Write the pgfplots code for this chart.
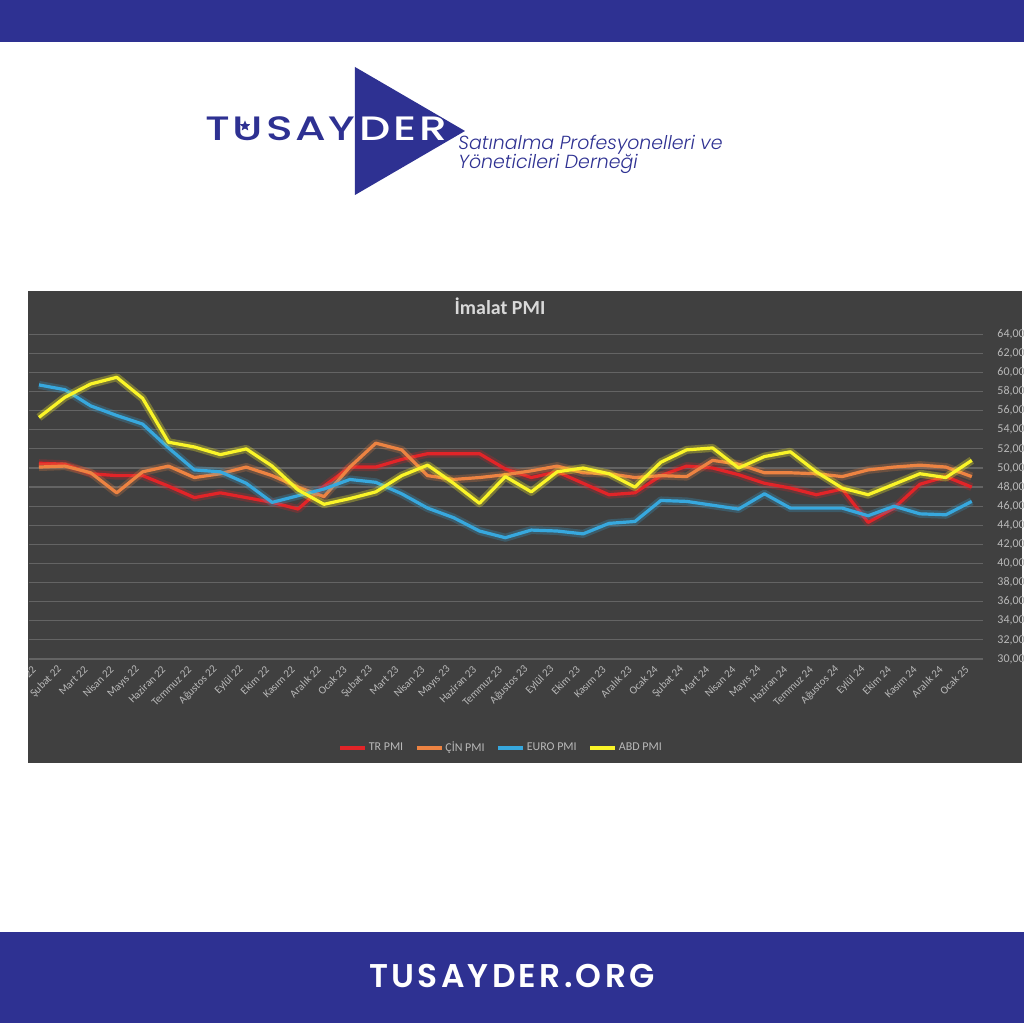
\documentclass[border=0pt]{standalone}
\usepackage{fontspec}
\usepackage{pgfplots}
\usepackage{pgfplotstable}
\pgfplotsset{compat=1.18}
\usetikzlibrary{shapes.geometric}
\setmainfont{Carlito}
\newfontfamily\logofont{Poppins Medium}[LetterSpace=6]
\newfontfamily\subfont{Poppins Light Italic}
\newfontfamily\footfont{Poppins SemiBold}[LetterSpace=10]
\definecolor{navy}{RGB}{46,49,146}
\definecolor{chartbg}{RGB}{64,64,64}
\definecolor{gridc}{RGB}{100,100,100}
\definecolor{labc}{RGB}{185,185,185}
\definecolor{titc}{RGB}{217,217,217}
\definecolor{trc}{RGB}{226,36,40}
\definecolor{cnc}{RGB}{237,131,66}
\definecolor{euc}{RGB}{55,168,222}
\definecolor{usc}{RGB}{250,245,40}
\pgfplotstableread{
i tr cn eu us
0 50.5 50.1 58.7 55.3
1 50.4 50.2 58.2 57.4
2 49.4 49.5 56.5 58.8
3 49.2 47.4 55.5 59.5
4 49.2 49.6 54.6 57.3
5 48.1 50.2 52.1 52.7
6 46.9 49.0 49.8 52.2
7 47.4 49.4 49.6 51.4
8 46.9 50.1 48.4 52.0
9 46.4 49.2 46.4 50.2
10 45.7 48.0 47.1 47.7
11 48.1 47.0 47.8 46.2
12 50.1 50.1 48.8 46.8
13 50.1 52.6 48.5 47.5
14 50.9 51.9 47.3 49.2
15 51.5 49.2 45.8 50.3
16 51.5 48.8 44.8 48.4
17 51.5 49.0 43.4 46.3
18 49.9 49.3 42.7 49.1
19 49.0 49.7 43.5 47.5
20 49.6 50.2 43.4 49.6
21 48.4 49.5 43.1 50.0
22 47.2 49.4 44.2 49.4
23 47.4 49.0 44.4 48.0
24 49.2 49.2 46.6 50.6
25 50.2 49.1 46.5 51.9
26 50.0 50.8 46.1 52.1
27 49.3 50.4 45.7 50.0
28 48.4 49.5 47.3 51.2
29 47.9 49.5 45.8 51.7
30 47.2 49.4 45.8 49.6
31 47.8 49.1 45.8 47.9
32 44.3 49.8 45.0 47.2
33 45.8 50.1 46.0 48.3
34 48.3 50.3 45.2 49.4
35 49.1 50.1 45.1 49.0
36 48.0 49.1 46.5 50.8
}\pmidata
\begin{document}
\begin{tikzpicture}
\useasboundingbox (0bp,0bp) rectangle (512bp,512bp);
\fill[white] (0bp,0bp) rectangle (512bp,512bp);
\begin{scope}[x=0.5bp,y=-0.5bp,shift={(0bp,512bp)}]
  % bands
  \fill[navy] (0,0) rectangle (1024,42);
  \fill[navy] (0,932) rectangle (1024,1023);
  \node[text=white, font=\footfont\fontsize{16.5}{18}\selectfont, anchor=base] at (512,988) {TUSAYDER.ORG};
  % logo
  \node[text=navy, font=\logofont\fontsize{17}{19}\selectfont, anchor=base west, inner sep=0pt, xscale=1.3, transform shape] at (205,141) {TUSAY};
  \fill[navy] (355,67) -- (355,195) -- (465,131) -- cycle;
  \node[text=white, font=\logofont\fontsize{17}{19}\selectfont, anchor=base west, inner sep=0pt, xscale=1.3, transform shape] at (359,141) {DER};
  \node[star, star points=5, star point ratio=2.2, fill=navy, minimum size=5.5bp, inner sep=0pt] at (245,126) {};
  \node[text=navy, font=\subfont\fontsize{9.5}{11}\selectfont, anchor=base west, inner sep=0pt] at (458,150) {Satınalma Profesyonelleri ve};
  \node[text=navy, font=\subfont\fontsize{9.5}{11}\selectfont, anchor=base west, inner sep=0pt] at (458,169) {Yöneticileri Derneği};
  % chart background
  \fill[chartbg] (28,291) rectangle (1022,763);
  \node[text=titc, font=\bfseries\fontsize{10}{11}\selectfont] at (500,306) {İmalat PMI};
\end{scope}
\begin{axis}[
  at={(14.3bp,182.5bp)}, anchor=south west,
  scale only axis, width=477.4bp, height=162.35bp,
  xmin=-0.4, xmax=36.45, ymin=30, ymax=64,
  xtick={0,...,36},
  xticklabels={Ocak 22,Şubat 22,Mart 22,Nisan 22,Mayıs 22,Haziran 22,Temmuz 22,Ağustos 22,Eylül 22,Ekim 22,Kasım 22,Aralık 22,Ocak 23,Şubat 23,Mart 23,Nisan 23,Mayıs 23,Haziran 23,Temmuz 23,Ağustos 23,Eylül 23,Ekim 23,Kasım 23,Aralık 23,Ocak 24,Şubat 24,Mart 24,Nisan 24,Mayıs 24,Haziran 24,Temmuz 24,Ağustos 24,Eylül 24,Ekim 24,Kasım 24,Aralık 24,Ocak 25},
  ytick={30,32,...,64},
  yticklabel pos=right,
  axis line style={draw=none},
  major tick length=0pt,
  ymajorgrids, grid style={draw=gridc, line width=0.6bp},
  tick label style={text=labc, font=\fontsize{6}{7}\selectfont},
  yticklabel style={anchor=west, xshift=3.5bp, /pgf/number format/fixed, /pgf/number format/fixed zerofill, /pgf/number format/precision=2, /pgf/number format/use comma},
  xticklabel style={yshift=-2bp, rotate=45, anchor=east, font=\fontsize{5.5}{6}\selectfont},
  /pgf/number format/assume math mode=true,
  legend columns=4,
  legend style={draw=none, fill=none, at={(0.496,-0.274)}, anchor=center, font=\fontsize{6}{7}\selectfont, text=labc, /tikz/every even column/.append style={column sep=4bp}, /tikz/every odd column/.append style={column sep=-1bp}},
  legend image code/.code={\draw[#1] (0bp,0bp) -- (12.5bp,0bp);},
  every axis plot/.append style={line join=round},
]
\addplot[forget plot, trc, line width=4bp, opacity=0.25] table[x=i,y=tr] {\pmidata};
\addplot[trc, line width=1.6bp] table[x=i,y=tr] {\pmidata};
\addlegendentry{TR PMI}
\addplot[forget plot, cnc, line width=4bp, opacity=0.25] table[x=i,y=cn] {\pmidata};
\addplot[cnc, line width=1.6bp] table[x=i,y=cn] {\pmidata};
\addlegendentry{ÇİN PMI}
\addplot[forget plot, euc, line width=4bp, opacity=0.25] table[x=i,y=eu] {\pmidata};
\addplot[euc, line width=1.6bp] table[x=i,y=eu] {\pmidata};
\addlegendentry{EURO PMI}
\addplot[forget plot, usc, line width=4bp, opacity=0.3] table[x=i,y=us] {\pmidata};
\addplot[usc, line width=1.6bp] table[x=i,y=us] {\pmidata};
\addlegendentry{ABD PMI}
\end{axis}
\begin{scope}[x=0.5bp,y=-0.5bp,shift={(0bp,512bp)}]
  \fill[white] (0,291) rectangle (28,763);
\end{scope}
\end{tikzpicture}
\end{document}
